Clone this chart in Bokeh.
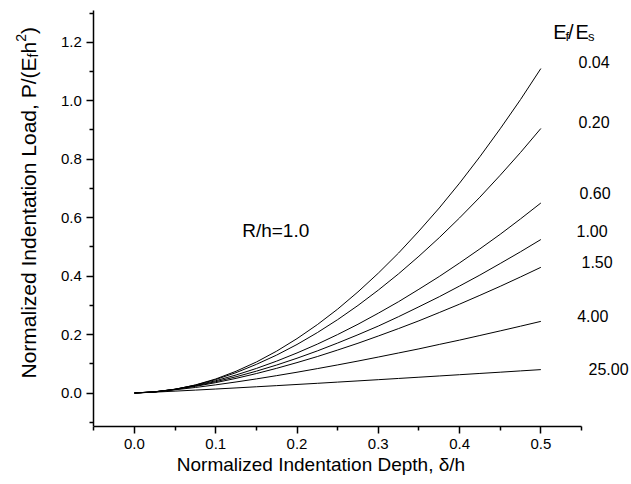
import math
from bokeh.plotting import figure
from bokeh.models import Range1d, FixedTicker, Label, CustomJSTickFormatter
from bokeh.embed import file_html
from bokeh.resources import INLINE

# ---- data ----
depth = [0.0, 0.025, 0.05, 0.075, 0.10, 0.125, 0.15, 0.175, 0.20, 0.225, 0.25,
         0.275, 0.30, 0.325, 0.35, 0.375, 0.40, 0.425, 0.45, 0.475, 0.50]
modulus_ratios = ["0.04", "0.20", "0.60", "1.00", "1.50", "4.00", "25.00"]
load_004 = [0, 0.0032, 0.0124, 0.0275, 0.048, 0.0744, 0.106, 0.1433, 0.186, 0.2339, 0.287,
            0.346, 0.410, 0.479, 0.554, 0.633, 0.718, 0.8085, 0.904, 1.004, 1.110]
load_020 = [0, 0.0035, 0.0128, 0.0271, 0.046, 0.0696, 0.098, 0.1298, 0.166, 0.2066, 0.251,
            0.2995, 0.352, 0.4079, 0.468, 0.5315, 0.599, 0.670, 0.745, 0.823, 0.905]
load_060 = [0, 0.0040, 0.0130, 0.0258, 0.042, 0.0616, 0.084, 0.1091, 0.137, 0.1672, 0.200,
            0.2352, 0.273, 0.3125, 0.355, 0.3986, 0.445, 0.4931, 0.543, 0.5957, 0.650]
load_100 = [0, 0.0041, 0.0126, 0.0243, 0.0387, 0.0555, 0.0747, 0.0958, 0.119, 0.1440, 0.171,
            0.1993, 0.229, 0.2612, 0.295, 0.3294, 0.366, 0.4035, 0.443, 0.4832, 0.525]
load_150 = [0, 0.0041, 0.0121, 0.0227, 0.0355, 0.0501, 0.0665, 0.0845, 0.104, 0.1247, 0.147,
            0.1702, 0.195, 0.2205, 0.247, 0.2753, 0.304, 0.3342, 0.365, 0.3971, 0.430]
load_400 = [0, 0.0043, 0.0110, 0.0189, 0.0279, 0.0377, 0.0482, 0.0594, 0.0711, 0.0834, 0.0961,
            0.1093, 0.123, 0.1370, 0.151, 0.1662, 0.181, 0.1967, 0.2125, 0.2286, 0.245]
load_2500 = [0, 0.0030, 0.0064, 0.0099, 0.0136, 0.0174, 0.0213, 0.0252, 0.0292, 0.0332, 0.0373,
             0.0414, 0.0456, 0.0498, 0.054, 0.0583, 0.0626, 0.0669, 0.0712, 0.0756, 0.080]
loads = [load_004, load_020, load_060, load_100, load_150, load_400, load_2500]
x_ticks = [0.0, 0.1, 0.2, 0.3, 0.4, 0.5]
y_ticks = [0.0, 0.2, 0.4, 0.6, 0.8, 1.0, 1.2]

# ---- axis extents and page layout ----
XA0, XA1 = -0.05, 0.55          # drawn x-axis extent
YA0, YA1 = -0.1146, 1.3086      # drawn y-axis extent
AL, AR, AT, AB = 93.3, 581.0, 10.0, 426.0   # page px of the axis box
W, H = 631, 484
FRAME_L, FRAME_R, FRAME_T = 12, 629, 2
KX = (XA1 - XA0) / (AR - AL)
KY = (YA1 - YA0) / (AB - AT)


def dx(px):
    return XA0 + (px - AL) * KX


def dy(py):
    return YA0 + (AB - py) * KY


FONT = "Liberation Sans"

p = figure(width=W, height=H, output_backend="svg", toolbar_location=None,
           x_range=Range1d(dx(FRAME_L), dx(FRAME_R)),
           y_range=Range1d(YA0, dy(FRAME_T)),
           min_border_left=FRAME_L, min_border_right=W - FRAME_R,
           min_border_top=FRAME_T, min_border_bottom=H - int(AB))
p.outline_line_color = None
p.xgrid.visible = False
p.ygrid.visible = False

for ys in loads:
    p.line(depth, ys, line_color="black", line_width=1)

minor_x = [round(v - 0.05, 2) for v in x_ticks] + [0.55]
minor_y = [round(v - 0.1, 2) for v in y_ticks] + [1.3]
p.xaxis.ticker = FixedTicker(ticks=x_ticks, minor_ticks=minor_x)
p.yaxis.ticker = FixedTicker(ticks=y_ticks, minor_ticks=minor_y)
p.xaxis.bounds = (XA0, XA1)
p.yaxis.bounds = (YA0, YA1)
p.yaxis.fixed_location = XA0

for axs in (p.xaxis, p.yaxis):
    axs.axis_line_width = 1.5
    axs.axis_line_color = "black"
    axs.major_tick_line_width = 1.5
    axs.minor_tick_line_width = 1.5
    axs.major_tick_line_color = "black"
    axs.minor_tick_line_color = "black"
    axs.major_tick_out = 7
    axs.major_tick_in = 0
    axs.minor_tick_out = 4
    axs.minor_tick_in = 0
    axs.major_label_text_font = FONT
    axs.major_label_text_font_size = "15px"
    axs.major_label_text_color = "black"
    axs.major_label_standoff = 5
    axs.formatter = CustomJSTickFormatter(code="return tick.toFixed(1);")

p.yaxis.axis_label = None
p.xaxis.axis_label = "Normalized Indentation Depth, δ/h"
p.xaxis.axis_label_text_font = FONT
p.xaxis.axis_label_text_font_size = "19px"
p.xaxis.axis_label_text_font_style = "normal"
p.xaxis.axis_label_text_color = "black"
p.xaxis.axis_label_standoff = 2

# y-axis title built from pieces (subscript f, superscript 2)
YF = 21
cx = 27.6
start = 378.0
w_main = 15.285 * YF
parts = [
    ("Normalized Indentation Load, P/(E", YF, cx, start),
    ("f", 14, cx + 5, start - w_main),
    ("h", YF, cx, start - w_main - 4),
    ("2", 14, cx - 7, start - w_main - 4 - 0.556 * YF),
    (")", YF, cx, start - w_main - 4 - 0.556 * YF - 7.8),
]
for txt, fs, px, py in parts:
    p.add_layout(Label(x=dx(px), y=dy(py), text=txt, angle=math.pi / 2,
                       text_font=FONT, text_font_size=f"{fs}px",
                       text_align="left", text_baseline="middle",
                       text_color="black"))

# header E_f/E_s
hdr = [
    ("E", 20, 552.7, 31.7),
    ("f", 13, 565.0, 36.0),
    ("/", 20, 567.5, 31.7),
    ("E", 20, 575.0, 31.7),
    ("s", 13, 587.5, 36.0),
]
for txt, fs, px, py in hdr:
    p.add_layout(Label(x=dx(px), y=dy(py), text=txt, text_font=FONT,
                       text_font_size=f"{fs}px", text_align="left",
                       text_baseline="alphabetic", text_color="black"))

# curve end labels
label_px = [578, 578, 579, 576, 581, 576.7, 588]
label_py = [61.7, 121.7, 192.7, 230, 261.7, 315, 368.3]
for txt, px, py in zip(modulus_ratios, label_px, label_py):
    p.add_layout(Label(x=dx(px), y=dy(py), text=txt, text_font=FONT,
                       text_font_size="16px", text_align="left",
                       text_baseline="middle", text_color="black"))

p.add_layout(Label(x=dx(241.7), y=dy(230), text="R/h=1.0", text_font=FONT,
                   text_font_size="19px", text_align="left",
                   text_baseline="middle", text_color="black"))

open("out.html", "w").write(file_html(p, INLINE))
